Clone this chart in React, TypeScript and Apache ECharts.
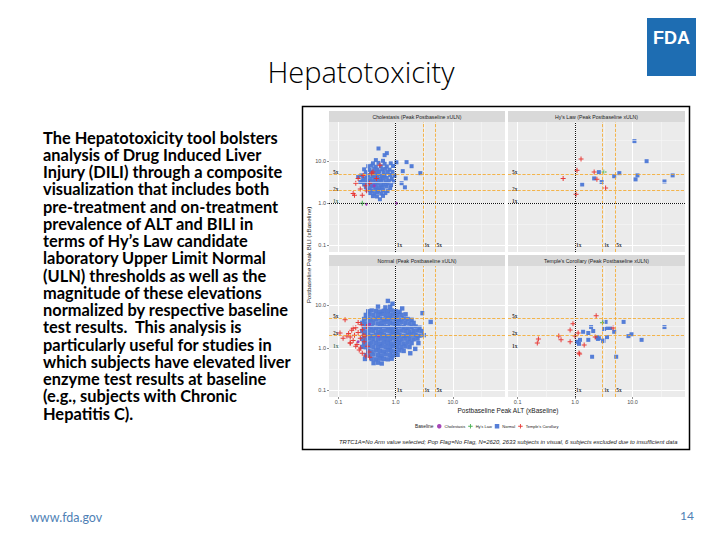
import React, { useEffect, useRef } from "react";
import * as echarts from "echarts";

const categories = ["Cholestasis", "Hy's Law", "Normal", "Temple's Corollary"];
const panelTitles = [
  "Cholestasis (Peak Postbaseline xULN)",
  "Hy's Law (Peak Postbaseline xULN)",
  "Normal (Peak Postbaseline xULN)",
  "Temple's Corollary (Peak Postbaseline xULN)",
];
const tickValues = [0.1, 1, 10];
const tickLabels = ["0.1", "1.0", "10.0"];
const refXValues = [1, 3, 5];
const refXLabels = ["1x", "3x", "5x"];
const refYValues = [5, 2, 1];
const refYLabels = ["5x", "2x", "1x"];
const minorGrid = [0.316, 3.16, 31.6];

const bodyLines = [
  "The Hepatotoxicity tool bolsters",
  "analysis of Drug Induced Liver",
  "Injury (DILI) through a composite",
  "visualization that includes both",
  "pre-treatment and on-treatment",
  "prevalence of ALT and BILI in",
  "terms of Hy\u2019s Law candidate",
  "laboratory Upper Limit Normal",
  "(ULN) thresholds as well as the",
  "magnitude of these elevations",
  "normalized by respective baseline",
  "test results.  This analysis is",
  "particularly useful for studies in",
  "which subjects have elevated liver",
  "enzyme test results at baseline",
  "(e.g., subjects with Chronic",
  "Hepatitis C).",
];

// ---- Cholestasis panel ----
const cholNormal: [number, number][] = [
  [0.5, 20], [0.7, 15.5], [0.64, 13.9], [1.03, 9.4], [1.55, 9.5], [1.9, 7.6], [2.7, 5.2], [1.5, 3.9],
  [1.45, 2.4], [1.27, 3.0], [1.33, 5.8], [0.22, 4.2], [0.24, 3.2], [0.53, 1.25],
  [0.45, 10.6], [0.6, 10.2],
  [0.4, 8.9], [0.5, 9.1], [0.64, 8.7], [0.82, 8.9],
  [0.33, 7.6], [0.38, 7.8], [0.45, 7.4], [0.55, 7.6], [0.7, 7.5], [0.9, 7.7],
  [0.28, 6.4], [0.35, 6.2], [0.42, 6.5], [0.48, 6.3], [0.58, 6.4], [0.66, 6.6], [0.78, 6.3],
  [0.3, 5.5], [0.37, 5.6], [0.4, 5.3], [0.46, 5.5], [0.52, 5.7], [0.62, 5.4], [0.73, 5.5], [0.88, 5.6],
  [0.25, 4.6], [0.33, 4.7], [0.39, 4.5], [0.44, 4.6], [0.5, 4.8], [0.57, 4.5], [0.64, 4.6], [0.8, 4.7], [0.95, 4.5],
  [0.27, 3.9], [0.31, 4.0], [0.36, 3.8], [0.42, 3.9], [0.47, 4.0], [0.54, 3.8], [0.6, 3.9], [0.7, 4.0], [0.85, 3.8],
  [0.26, 3.3], [0.3, 3.2], [0.34, 3.4], [0.4, 3.3], [0.45, 3.2], [0.5, 3.4], [0.56, 3.3], [0.66, 3.2], [0.76, 3.4], [0.92, 3.3],
  [0.28, 2.8], [0.33, 2.9], [0.37, 2.7], [0.43, 2.8], [0.48, 2.9], [0.55, 2.7], [0.62, 2.8], [0.72, 2.9], [0.83, 2.7],
  [0.3, 2.4], [0.35, 2.3], [0.4, 2.5], [0.46, 2.4], [0.52, 2.3], [0.58, 2.4], [0.68, 2.5], [0.8, 2.3],
  [0.32, 2.05], [0.38, 2.0], [0.44, 2.1], [0.5, 2.0], [0.6, 2.05], [0.72, 1.95],
  [0.36, 1.75], [0.42, 1.7], [0.48, 1.8], [0.56, 1.7], [0.66, 1.75],
  [0.4, 1.48], [0.47, 1.45], [0.6, 1.5],
];
const cholTemple: [number, number][] = [
  [0.22, 3.9], [0.27, 4.6], [0.38, 5.2], [0.53, 8.0], [0.31, 2.0], [0.26, 1.55], [0.19, 1.55],
  [0.35, 3.0], [0.46, 3.9], [0.4, 5.5], [0.2, 3.0], [0.3, 2.6], [0.24, 2.2], [0.18, 1.7],
];
const cholChol: [number, number][] = [[0.31, 0.95], [1.03, 1.0], [0.42, 2.6]];
const cholHy: [number, number][] = [[0.26, 1.0]];

// ---- Hy's Law panel ----
const hyNormal: [number, number][] = [
  [10.8, 29.9], [17.6, 10], [2.6, 5.5], [5.9, 5.2], [4.8, 4.4], [2.15, 3.9], [2.9, 3.2],
  [1.33, 2.8], [11.3, 3.7], [12.2, 4.6], [36, 3.3], [50, 4.6],
];
const hyTemple: [number, number][] = [
  [1.27, 11.2], [1.08, 6.1], [0.62, 3.9], [2.15, 5.5], [2.4, 3.7], [3.4, 2.3], [1.04, 1.65],
];
const hyHy: [number, number][] = [[3.2, 5.5]];
const hyChol: [number, number][] = [];

// ---- Normal panel ----
const normNormal: [number, number][] = [
  [0.49, 9.4], [0.66, 9.0], [0.8, 9.3],
  [0.33, 7.3], [0.38, 7.6], [0.45, 7.4], [0.53, 7.2], [0.62, 7.5], [0.73, 7.4], [0.85, 7.6], [1.0, 7.3], [1.17, 7.1],
  [0.3, 6.0], [0.35, 6.1], [0.41, 5.9], [0.49, 6.0], [0.57, 6.2], [0.67, 5.9], [0.79, 6.0], [0.92, 6.1], [1.08, 5.9], [1.27, 6.0], [1.49, 6.2],
  [0.28, 4.8], [0.33, 4.9], [0.38, 4.7], [0.45, 4.8], [0.53, 4.9], [0.62, 4.7], [0.73, 4.8], [0.85, 4.9], [1.0, 4.8], [1.17, 4.7], [1.38, 4.9], [1.62, 4.8], [1.9, 4.6],
  [0.26, 3.9], [0.3, 3.8], [0.35, 4.0], [0.41, 3.9], [0.49, 3.8], [0.57, 3.9], [0.67, 4.0], [0.79, 3.9], [0.92, 3.8], [1.08, 3.9], [1.27, 4.0], [1.49, 3.9], [1.75, 3.8], [2.06, 3.9],
  [0.28, 3.1], [0.33, 3.2], [0.38, 3.1], [0.45, 3.0], [0.53, 3.1], [0.62, 3.2], [0.73, 3.1], [0.85, 3.0], [1.0, 3.1], [1.17, 3.2], [1.38, 3.1], [1.62, 3.0], [1.9, 3.1], [2.23, 3.2], [2.61, 3.0],
  [0.26, 2.5], [0.3, 2.45], [0.35, 2.55], [0.41, 2.5], [0.49, 2.45], [0.57, 2.5], [0.67, 2.55], [0.79, 2.5], [0.92, 2.45], [1.08, 2.5], [1.27, 2.55], [1.49, 2.5], [1.75, 2.45], [2.06, 2.5], [2.41, 2.55], [2.83, 2.5],
  [0.28, 2.0], [0.33, 2.05], [0.38, 1.95], [0.45, 2.0], [0.53, 2.05], [0.62, 2.0], [0.73, 1.95], [0.85, 2.0], [1.0, 2.05], [1.17, 2.0], [1.38, 1.95], [1.62, 2.0], [1.9, 2.05], [2.23, 2.0], [2.61, 1.95],
  [0.26, 1.63], [0.3, 1.6], [0.35, 1.66], [0.41, 1.63], [0.49, 1.6], [0.57, 1.65], [0.67, 1.63], [0.79, 1.6], [0.92, 1.66], [1.08, 1.63], [1.27, 1.6], [1.49, 1.65], [1.75, 1.63], [2.06, 1.6], [2.41, 1.66],
  [0.28, 1.31], [0.33, 1.28], [0.38, 1.33], [0.45, 1.31], [0.53, 1.28], [0.62, 1.33], [0.73, 1.31], [0.85, 1.28], [1.0, 1.33], [1.17, 1.31], [1.38, 1.28], [1.62, 1.33], [1.9, 1.3],
  [0.26, 1.06], [0.3, 1.04], [0.35, 1.08], [0.41, 1.06], [0.49, 1.04], [0.57, 1.08], [0.67, 1.06], [0.79, 1.04], [0.92, 1.08], [1.08, 1.06], [1.27, 1.04], [1.49, 1.08], [1.75, 1.05],
  [0.33, 0.85], [0.38, 0.83], [0.45, 0.87], [0.53, 0.85], [0.62, 0.83], [0.73, 0.87], [0.85, 0.85], [1.0, 0.83], [1.17, 0.87], [1.38, 0.85],
  [0.3, 0.68], [0.35, 0.67], [0.41, 0.7], [0.49, 0.68], [0.57, 0.67], [0.67, 0.7], [0.79, 0.68], [0.92, 0.67], [1.08, 0.69],
  [0.38, 0.55], [0.45, 0.54], [0.53, 0.56], [0.62, 0.55], [0.73, 0.54], [0.85, 0.56],
  [0.41, 0.44], [0.49, 0.45], [0.57, 0.43],
  [0.73, 12.8], [0.88, 11.0], [2.95, 6.6], [4.1, 4.1], [3.1, 2.0], [2.2, 0.95], [2.5, 1.3], [1.8, 0.75], [0.29, 0.55], [1.3, 8.5],
];
const normTemple: [number, number][] = [
  [0.15, 2.2], [0.16, 1.8], [0.17, 2.6], [0.18, 1.5], [0.19, 2.0], [0.2, 3.0], [0.21, 1.2], [0.22, 2.3],
  [0.23, 0.9], [0.24, 1.7], [0.25, 3.5], [0.26, 0.75], [0.27, 2.0], [0.28, 1.4], [0.3, 0.65], [0.32, 1.1],
  [0.34, 0.8], [0.18, 2.9], [0.2, 1.1], [0.16, 1.3], [0.22, 4.0], [0.26, 2.7], [0.29, 1.9], [0.35, 0.6],
  [0.14, 1.9], [0.24, 1.0], [0.31, 3.2], [0.13, 4.6], [0.106, 2.25], [0.12, 1.7], [0.16, 1.3],
];
const normChol: [number, number][] = [[0.35, 3.6], [0.5, 1.9], [0.22, 1.4]];
const normHy: [number, number][] = [];

// ---- Temple's Corollary panel ----
const templeNormal: [number, number][] = [
  [1.38, 2.4], [1.9, 3.1], [1.7, 2.25], [2.07, 2.5], [1.7, 1.55], [1.22, 1.55], [1.08, 1.4], [1.17, 1.25],
  [2.4, 1.8], [2.6, 1.7], [3.1, 1.5], [3.6, 1.8], [3.4, 4.1], [3.2, 2.8], [3.7, 2.95], [4.1, 2.95],
  [4.8, 2.4], [7.0, 4.1], [8.5, 1.9], [9.6, 2.1], [14.4, 1.55], [36, 3.1], [5.2, 0.62], [1.98, 0.62],
  [3.1, 1.45], [2.5, 1.63],
];
const templeTemple: [number, number][] = [
  [2.33, 5.7], [0.92, 3.7], [0.82, 2.65], [1.13, 2.25], [1.0, 1.9], [0.52, 1.9], [0.57, 1.55], [0.23, 1.63],
  [0.22, 1.3], [0.82, 1.4], [1.44, 1.18], [1.17, 0.76], [1.2, 0.72], [2.24, 1.8], [4.6, 2.95],
];
const templeHy: [number, number][] = [[3.0, 3.9]];
const templeChol: [number, number][] = [];

const panelData: Record<string, [number, number][]>[] = [
  { Normal: cholNormal, "Temple's Corollary": cholTemple, Cholestasis: cholChol, "Hy's Law": cholHy },
  { Normal: hyNormal, "Temple's Corollary": hyTemple, Cholestasis: hyChol, "Hy's Law": hyHy },
  { Normal: normNormal, "Temple's Corollary": normTemple, Cholestasis: normChol, "Hy's Law": normHy },
  { Normal: templeNormal, "Temple's Corollary": templeTemple, Cholestasis: templeChol, "Hy's Law": templeHy },
];

const PLUS = "path://M4,0H6V4H10V6H6V10H4V6H0V4H4Z";
const catStyle: Record<string, { symbol: string; size: number; color: string }> = {
  Cholestasis: { symbol: "circle", size: 3, color: "#a03cb4" },
  "Hy's Law": { symbol: PLUS, size: 5, color: "#3fae49" },
  Normal: { symbol: "rect", size: 4, color: "#4d78d6" },
  "Temple's Corollary": { symbol: PLUS, size: 5, color: "#e8332f" },
};
const drawOrder = ["Normal", "Temple's Corollary", "Cholestasis", "Hy's Law"];

const grids = [
  { left: 329, top: 122, width: 176, height: 130 },
  { left: 508, top: 122, width: 177, height: 130 },
  { left: 329, top: 266, width: 176, height: 131 },
  { left: 508, top: 266, width: 177, height: 131 },
];
const X_MIN = 0.068, X_MAX = 82, Y_MIN = 0.07, Y_MAX = 85;
const CHART_FONT = "Liberation Sans";

function fmtTick(v: number) {
  const i = tickValues.findIndex((t) => Math.abs(v - t) < t * 1e-6);
  return i >= 0 ? tickLabels[i] : "";
}

export default function App() {
  const ref = useRef<HTMLDivElement>(null);
  useEffect(() => {
    if (!ref.current) return;
    const chart = echarts.init(ref.current, null, { renderer: "svg" });

    const xAxis: any[] = [];
    const yAxis: any[] = [];
    const series: any[] = [];
    const orange = { color: "#f5a623", type: "dashed", width: 0.8 };
    const black = { color: "#111", type: "dotted", width: 1 };
    const minor = { color: "#f6f6f6", type: "solid", width: 0.6 };

    grids.forEach((g, i) => {
      const bottom = i >= 2;
      const left = i % 2 === 0;
      xAxis.push({
        type: "log", logBase: 10, gridIndex: i, min: X_MIN, max: X_MAX,
        axisLine: { show: false },
        axisTick: { show: bottom, length: 2, lineStyle: { color: "#444", width: 0.6 }, customValues: tickValues },
        axisLabel: { show: bottom, formatter: fmtTick, customValues: tickValues, fontSize: 5.5, color: "#4d4d4d", margin: 2, fontFamily: CHART_FONT },
        splitLine: { show: true, lineStyle: { color: "#ffffff", width: 1 } },
      });
      yAxis.push({
        type: "log", logBase: 10, gridIndex: i, min: Y_MIN, max: Y_MAX,
        axisLine: { show: false },
        axisTick: { show: left, length: 2, lineStyle: { color: "#444", width: 0.6 }, customValues: tickValues },
        axisLabel: { show: left, formatter: fmtTick, customValues: tickValues, fontSize: 5.5, color: "#4d4d4d", margin: 3, fontFamily: CHART_FONT },
        splitLine: { show: true, lineStyle: { color: "#ffffff", width: 1 } },
      });

      const lines: any[] = [
        ...minorGrid.map((v) => ({ xAxis: v, lineStyle: minor })),
        ...minorGrid.map((v) => ({ yAxis: v, lineStyle: minor })),
        ...refXValues.map((v, k) => ({ xAxis: v, lineStyle: k === 0 ? black : orange })),
        ...refYValues
          .filter((v, k) => k < 2 || !bottom)
          .map((v) => ({ yAxis: v, lineStyle: v === 1 ? black : orange })),
      ];
      const labelData: any[] = [
        ...refXValues.map((v, k) => ({
          value: [v, tickValues[0]],
          label: { formatter: refXLabels[k], position: "right", distance: 1 },
        })),
        ...refYValues.map((v, k) => ({
          value: [X_MIN, v],
          label: {
            formatter: refYLabels[k], position: "right", distance: 4, offset: [0, -2],
            color: v === 1 && left ? "#1d5a45" : "#000",
          },
        })),
      ];
      series.push({
        type: "scatter", name: "refs" + i, xAxisIndex: i, yAxisIndex: i, z: 1, silent: true,
        symbolSize: 0, itemStyle: { color: "rgba(0,0,0,0)" },
        label: { show: true, fontSize: 5.5, fontWeight: "bold", color: "#000", fontFamily: "Liberation Serif" },
        data: labelData,
        markLine: { silent: true, symbol: ["none", "none"], label: { show: false }, data: lines, animation: false },
      });

      drawOrder.forEach((cat) => {
        const st = catStyle[cat];
        series.push({
          type: "scatter", name: cat, xAxisIndex: i, yAxisIndex: i, z: 2,
          symbol: st.symbol,
          symbolSize: cat === "Normal" && i === 2 ? 4.4 : st.size,
          itemStyle: { color: st.color, opacity: 0.95 },
          data: panelData[i][cat],
        });
      });
    });

    const graphics: any[] = [
      { type: "rect", shape: { x: 302.5, y: 106.5, width: 387, height: 343 }, style: { fill: "none", stroke: "#000", lineWidth: 1.5 }, z: 100 },
      ...grids.map((g) => ({
        type: "rect",
        shape: { x: g.left, y: g.top - 11, width: g.width, height: 11 },
        style: { fill: "#d9d9d9" },
      })),
      ...grids.map((g, i) => ({
        type: "text", x: g.left + g.width / 2, y: g.top - 5.5,
        style: { text: panelTitles[i], fill: "#1a1a1a", fontSize: 5.2, fontFamily: CHART_FONT, align: "center", verticalAlign: "middle" },
      })),
      {
        type: "text", x: 308.5, y: 255, rotation: Math.PI / 2,
        style: { text: "Postbaseline Peak BILI (xBaseline)", fill: "#1a1a1a", fontSize: 6.2, fontFamily: CHART_FONT, align: "center", verticalAlign: "middle" },
      },
      {
        type: "text", x: 508, y: 410,
        style: { text: "Postbaseline Peak ALT (xBaseline)", fill: "#1a1a1a", fontSize: 6.5, fontFamily: CHART_FONT, align: "center", verticalAlign: "middle" },
      },
      {
        type: "text", x: 415, y: 426,
        style: { text: "Baseline", fill: "#1a1a1a", fontSize: 4.8, fontFamily: CHART_FONT, align: "left", verticalAlign: "middle" },
      },
      {
        type: "text", x: 339, y: 442,
        style: {
          text: "TRTC1A=No Arm value selected; Pop Flag=No Flag, N=2620, 2633 subjects in visual, 6 subjects excluded due to insufficient data",
          fill: "#1a1a1a", fontSize: 5.9, fontStyle: "italic", fontFamily: CHART_FONT, align: "left", verticalAlign: "middle",
        },
      },
      {
        type: "text", x: 361, y: 71,
        style: { text: "Hepatotoxicity", fill: "#000", fontSize: 29, fontWeight: 300, fontFamily: "Open Sans", align: "center", verticalAlign: "middle" },
      },
      {
        type: "text", x: 43, y: 128.5,
        style: { text: bodyLines.join("\n"), fill: "#000", fontSize: 16.4, fontWeight: "bold", fontFamily: "Lato", lineHeight: 17.25, align: "left", verticalAlign: "top" },
      },
      { type: "rect", shape: { x: 647, y: 18, width: 49, height: 58 }, style: { fill: "#1e6db2" } },
      {
        type: "text", x: 671.5, y: 38,
        style: { text: "FDA", fill: "#fff", fontSize: 18, fontWeight: "bold", fontFamily: CHART_FONT, align: "center", verticalAlign: "middle" },
      },
      {
        type: "text", x: 30, y: 517,
        style: { text: "www.fda.gov", fill: "#4f7fb5", fontSize: 12.5, fontFamily: "Lato", align: "left", verticalAlign: "middle" },
      },
      {
        type: "text", x: 694, y: 515,
        style: { text: "14", fill: "#4f7fb5", fontSize: 12, fontFamily: "Lato", align: "right", verticalAlign: "middle" },
      },
    ];

    chart.setOption({
      animation: false,
      backgroundColor: "#ffffff",
      grid: grids.map((g) => ({ ...g, show: true, backgroundColor: "#ebebeb", borderWidth: 0, containLabel: false })),
      xAxis,
      yAxis,
      legend: {
        left: 437, top: 424, itemWidth: 4.5, itemHeight: 4.5, itemGap: 3, padding: 0, selectedMode: false,
        textStyle: { fontSize: 4.0, color: "#1a1a1a", fontFamily: CHART_FONT, padding: [0, 0, 0, -2] },
        data: categories.map((c) => ({ name: c, icon: catStyle[c].symbol, itemStyle: { color: catStyle[c].color } })),
      },
      series,
      graphic: { elements: graphics },
    });
    return () => chart.dispose();
  }, []);
  return (
    <div
      ref={ref}
      style={{ position: "absolute", left: 0, top: 0, width: 720, height: 540, background: "#fff" }}
    />
  );
}
